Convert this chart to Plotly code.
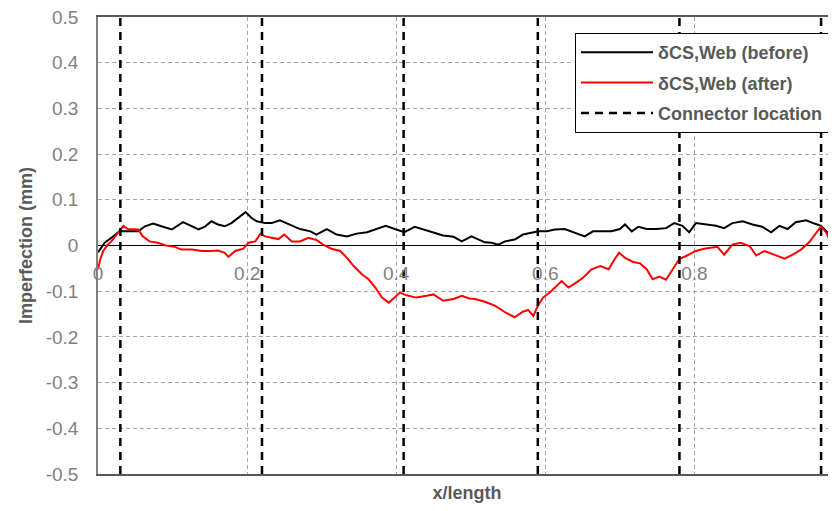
import plotly.graph_objects as go

# ---------------- data ----------------
before_x = [0.000, 0.009, 0.018, 0.029, 0.040, 0.054, 0.063, 0.074, 0.085, 0.099,
            0.114, 0.126, 0.135, 0.144, 0.152, 0.161, 0.170, 0.179, 0.188, 0.198,
            0.206, 0.213, 0.224, 0.233, 0.244, 0.258, 0.271, 0.285, 0.293, 0.307,
            0.320, 0.334, 0.347, 0.361, 0.374, 0.386, 0.398, 0.411, 0.425, 0.436,
            0.450, 0.463, 0.477, 0.488, 0.501, 0.510, 0.519, 0.528, 0.537, 0.546,
            0.559, 0.570, 0.582, 0.591, 0.602, 0.613, 0.626, 0.640, 0.653, 0.664,
            0.676, 0.689, 0.700, 0.707, 0.716, 0.725, 0.736, 0.749, 0.762, 0.773,
            0.784, 0.793, 0.802, 0.816, 0.829, 0.840, 0.851, 0.865, 0.878, 0.891,
            0.903, 0.914, 0.925, 0.936, 0.950, 0.961, 0.970, 0.979, 0.990]
before_y = [-0.015, 0.006, 0.017, 0.031, 0.031, 0.031, 0.042, 0.048, 0.042, 0.035,
            0.051, 0.041, 0.035, 0.042, 0.053, 0.046, 0.042, 0.049, 0.060, 0.073,
            0.060, 0.053, 0.049, 0.049, 0.055, 0.046, 0.036, 0.031, 0.024, 0.036,
            0.024, 0.020, 0.026, 0.029, 0.036, 0.043, 0.036, 0.029, 0.041, 0.036,
            0.029, 0.022, 0.019, 0.009, 0.020, 0.013, 0.007, 0.006, 0.002, 0.009,
            0.013, 0.024, 0.028, 0.031, 0.031, 0.035, 0.036, 0.028, 0.020, 0.031,
            0.031, 0.031, 0.036, 0.046, 0.031, 0.041, 0.036, 0.036, 0.038, 0.049,
            0.043, 0.029, 0.049, 0.046, 0.043, 0.038, 0.049, 0.053, 0.046, 0.041,
            0.029, 0.043, 0.036, 0.051, 0.055, 0.048, 0.043, 0.028, -0.001]

after_x = [0.000, 0.003, 0.007, 0.013, 0.018, 0.027, 0.034, 0.040, 0.054, 0.060,
           0.069, 0.080, 0.091, 0.103, 0.112, 0.126, 0.139, 0.151, 0.161, 0.170,
           0.175, 0.184, 0.195, 0.202, 0.211, 0.218, 0.224, 0.233, 0.242, 0.250,
           0.260, 0.271, 0.282, 0.293, 0.302, 0.313, 0.325, 0.334, 0.343, 0.354,
           0.363, 0.372, 0.381, 0.390, 0.398, 0.405, 0.414, 0.427, 0.441, 0.450,
           0.463, 0.477, 0.488, 0.498, 0.506, 0.519, 0.533, 0.546, 0.559, 0.570,
           0.577, 0.584, 0.590, 0.597, 0.606, 0.613, 0.622, 0.631, 0.640, 0.651,
           0.662, 0.674, 0.685, 0.693, 0.699, 0.707, 0.718, 0.727, 0.736, 0.744,
           0.753, 0.762, 0.771, 0.780, 0.789, 0.802, 0.813, 0.824, 0.831, 0.840,
           0.851, 0.862, 0.874, 0.883, 0.894, 0.907, 0.921, 0.932, 0.943, 0.954,
           0.963, 0.970, 0.977, 0.983, 0.990]
after_y = [-0.052, -0.030, -0.012, 0.002, 0.009, 0.028, 0.043, 0.036, 0.035, 0.020,
           0.009, 0.006, 0.000, -0.003, -0.009, -0.009, -0.012, -0.012, -0.011, -0.016,
           -0.025, -0.012, -0.007, 0.006, 0.009, 0.026, 0.020, 0.017, 0.014, 0.024,
           0.009, 0.009, 0.017, 0.012, 0.002, -0.007, -0.012, -0.027, -0.045, -0.063,
           -0.074, -0.092, -0.114, -0.125, -0.114, -0.103, -0.109, -0.114, -0.110, -0.107,
           -0.121, -0.117, -0.110, -0.116, -0.117, -0.123, -0.132, -0.146, -0.157, -0.145,
           -0.141, -0.154, -0.132, -0.114, -0.103, -0.092, -0.078, -0.092, -0.083, -0.070,
           -0.052, -0.045, -0.052, -0.030, -0.016, -0.027, -0.036, -0.039, -0.052, -0.074,
           -0.068, -0.075, -0.052, -0.029, -0.023, -0.012, -0.007, -0.005, -0.003, -0.020,
           0.002, 0.006, -0.001, -0.022, -0.012, -0.020, -0.029, -0.020, -0.009, 0.007,
           0.028, 0.042, 0.028, 0.006, -0.020]

connector_x = [0.03, 0.22, 0.41, 0.59, 0.78, 0.97]
y_limits = [-0.5, 0.5]
x_ticks = [0, 0.2, 0.4, 0.6, 0.8]
x_tick_labels = ["0", "0.2", "0.4", "0.6", "0.8"]
y_ticks = [0.5, 0.4, 0.3, 0.2, 0.1, 0, -0.1, -0.2, -0.3, -0.4, -0.5]
y_tick_labels = ["0.5", "0.4", "0.3", "0.2", "0.1", "0", "-0.1", "-0.2", "-0.3", "-0.4", "-0.5"]

FONT = "Liberation Sans"
GREY = "#595959"
XR = [0, 0.99]

# connector trace with gaps
cx, cy = [], []
for c in connector_x:
    cx += [c, c, None]
    cy += [y_limits[0], y_limits[1], None]

fig = go.Figure()
fig.add_trace(go.Scatter(x=before_x, y=before_y, mode="lines",
                         name="δCS,Web (before)", legendgroup="a",
                         line=dict(color="black", width=2)))
fig.add_trace(go.Scatter(x=after_x, y=after_y, mode="lines",
                         name="δCS,Web (after)", legendgroup="b",
                         line=dict(color="#ff0000", width=2)))
fig.add_trace(go.Scatter(x=cx, y=cy, mode="lines", xaxis="x2",
                         name="Connector location", legendgroup="c",
                         line=dict(color="black", width=2.5, dash="8px,6px")))

fig.update_layout(
    width=836, height=511,
    margin=dict(l=90, r=8, t=9, b=45, autoexpand=False),
    paper_bgcolor="white", plot_bgcolor="white",
    font=dict(family=FONT, color=GREY, size=17),
    xaxis=dict(range=XR, anchor="y", showline=True, linecolor=GREY, linewidth=1.5,
               mirror=True, showticklabels=False, ticks="", automargin=False,
               tickvals=x_ticks, showgrid=True, gridcolor="#a6a6a6",
               griddash="4px,3px", gridwidth=1, zeroline=False,
               title=dict(text="<b>x/length</b>", font=dict(size=18, color=GREY),
                          standoff=12)),
    xaxis2=dict(range=XR, overlaying="x", anchor="free", position=0.5,
                showline=False, showgrid=False, zeroline=False, automargin=False,
                tickvals=x_ticks, ticktext=x_tick_labels, ticks="outside",
                ticklen=11, tickcolor="rgba(0,0,0,0)", ticklabeloverflow="allow",
                tickfont=dict(size=19, color="#7f7f7f")),
    yaxis=dict(range=y_limits, showline=True, linecolor="#7f7f7f", linewidth=1.5,
               tickvals=y_ticks, ticktext=y_tick_labels, ticks="outside",
               ticklen=14, tickcolor="rgba(0,0,0,0)", automargin=False,
               ticklabeloverflow="allow",
               tickfont=dict(size=19, color="#7f7f7f"),
               showgrid=True, gridcolor="#a6a6a6", griddash="4px,3px", gridwidth=1,
               zeroline=True, zerolinecolor="black", zerolinewidth=1.3,
               title=dict(text="<b>Imperfection (mm)</b>", font=dict(size=18, color=GREY),
                          standoff=8)),
    legend=dict(x=0.9905, xanchor="right", y=0.965, yanchor="top",
                bgcolor="white", bordercolor="black", borderwidth=1,
                font=dict(size=18, color=GREY, family=FONT, weight="bold"),
                tracegroupgap=4, itemwidth=72, traceorder="grouped"),
    showlegend=True,
)

fig.write_html("out.html")
